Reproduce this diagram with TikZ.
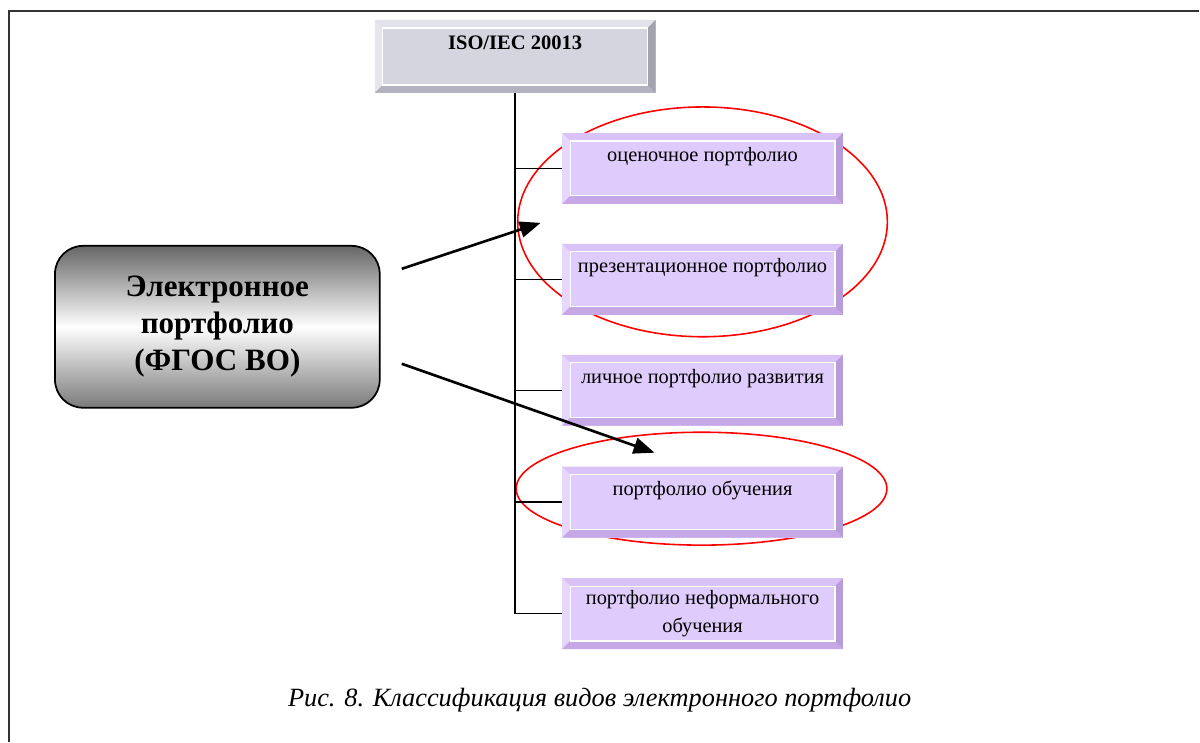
\documentclass[tikz,border=0pt]{standalone}
\usepackage{fontspec}
\setmainfont{Liberation Serif}
\usetikzlibrary{arrows.meta,positioning}

\definecolor{lilac}{HTML}{E0CCFC}
\definecolor{lilacTop}{HTML}{D9C2F5}
\definecolor{lilacLeft}{HTML}{E7D6FD}
\definecolor{lilacBottom}{HTML}{C6A8E6}
\definecolor{lilacRight}{HTML}{B89CDA}
\definecolor{steel}{HTML}{D5D5DF}
\definecolor{steelTop}{HTML}{E2E2EA}
\definecolor{steelLeft}{HTML}{E6E6EE}
\definecolor{steelBottom}{HTML}{B3B3BF}
\definecolor{steelRight}{HTML}{A3A3AF}

\begin{document}
\begin{tikzpicture}[x=0.02cm, y=-0.02cm,
  bevel/.style n args={5}{fill=#1, path picture={
      \coordinate (nw) at (path picture bounding box.north west);
      \coordinate (ne) at (path picture bounding box.north east);
      \coordinate (sw) at (path picture bounding box.south west);
      \coordinate (se) at (path picture bounding box.south east);
      \fill[#2] (nw) -- (ne) -- ([shift={(-0.16cm,-0.16cm)}]ne) -- ([shift={(0.16cm,-0.16cm)}]nw) -- cycle;
      \fill[#3] (nw) -- (sw) -- ([shift={(0.16cm,0.16cm)}]sw) -- ([shift={(0.16cm,-0.16cm)}]nw) -- cycle;
      \fill[#4] (sw) -- (se) -- ([shift={(-0.16cm,0.16cm)}]se) -- ([shift={(0.16cm,0.16cm)}]sw) -- cycle;
      \fill[#5] (ne) -- (se) -- ([shift={(-0.16cm,0.16cm)}]se) -- ([shift={(-0.16cm,-0.16cm)}]ne) -- cycle;
      \draw[white, line width=0.7pt] ([shift={(0.16cm,-0.16cm)}]nw) rectangle ([shift={(-0.16cm,0.16cm)}]se);
    }},
  kind/.style = {bevel={lilac}{lilacTop}{lilacLeft}{lilacBottom}{lilacRight},
    minimum width=5.62cm, minimum height=1.42cm, inner sep=0pt, align=center,
    font=\fontsize{11.6}{16.4}\selectfont},
  raised/.style = {text height=0.58cm, text depth=0.84cm},
  standard/.style = {bevel={steel}{steelTop}{steelLeft}{steelBottom}{steelRight},
    minimum width=5.62cm, minimum height=1.46cm, inner sep=0pt,
    text height=0.6cm, text depth=0.86cm, font=\fontsize{11.7}{14}\selectfont\bfseries},
  eport/.style = {draw, line width=1pt, rounded corners=0.56cm,
    top color=black!60, bottom color=black!52, middle color=white,
    minimum width=6.5cm, minimum height=3.24cm, align=center,
    font=\fontsize{17.7}{21}\selectfont\bfseries},
  branch/.style = {line width=0.8pt},
  pointer/.style = {line width=1.5pt, -{Triangle[length=0.42cm,width=0.32cm]}},
  ring/.style = {draw=red, line width=0.9pt}]

  % frame
  \draw[line width=0.9pt, black!80] (9,742) -- (9,11) -- (1200,11);

  % red ellipses
  \draw[ring] (703,222) ellipse [x radius=3.7cm, y radius=2.3cm];
  \draw[ring] (702,489) ellipse [x radius=3.71cm, y radius=1.13cm];

  \node[standard] (iso) at (515.5,56.5) {ISO/IEC 20013};

  \node[kind, raised] (k1) at (703,168.5) {оценочное портфолио};
  \node[kind, raised] (k2) at (703,279.5) {презентационное портфолио};
  \node[kind, raised] (k3) at (703,390.5) {личное портфолио развития};
  \node[kind, raised] (k4) at (703,502.5) {портфолио обучения};
  \node[kind] (k5) at (703,614) {портфолио неформального\\обучения};

  % tree
  \draw[branch] (iso.south) |- (k5.west);
  \foreach \k in {k1,k2,k3,k4}
    \draw[branch] (iso.south |- \k.west) -- (\k.west);

  \node[eport] (ep) at (217.5,327) {Электронное\\портфолио\\(ФГОС ВО)};

  \coordinate (from1) at (402,269);
  \coordinate (to1) at (541,223);
  \coordinate (from2) at (402,364);
  \coordinate (to2) at (655,453);
  \draw[pointer] (from1) -- (to1);
  \draw[pointer] (from2) -- (to2);

  \node[font=\fontsize{15}{18}\selectfont\itshape] (cap) at (600,701)
    {Рис. 8. Классификация видов электронного портфолио};

  \useasboundingbox (0,0) rectangle (1200,742);
\end{tikzpicture}
\end{document}
